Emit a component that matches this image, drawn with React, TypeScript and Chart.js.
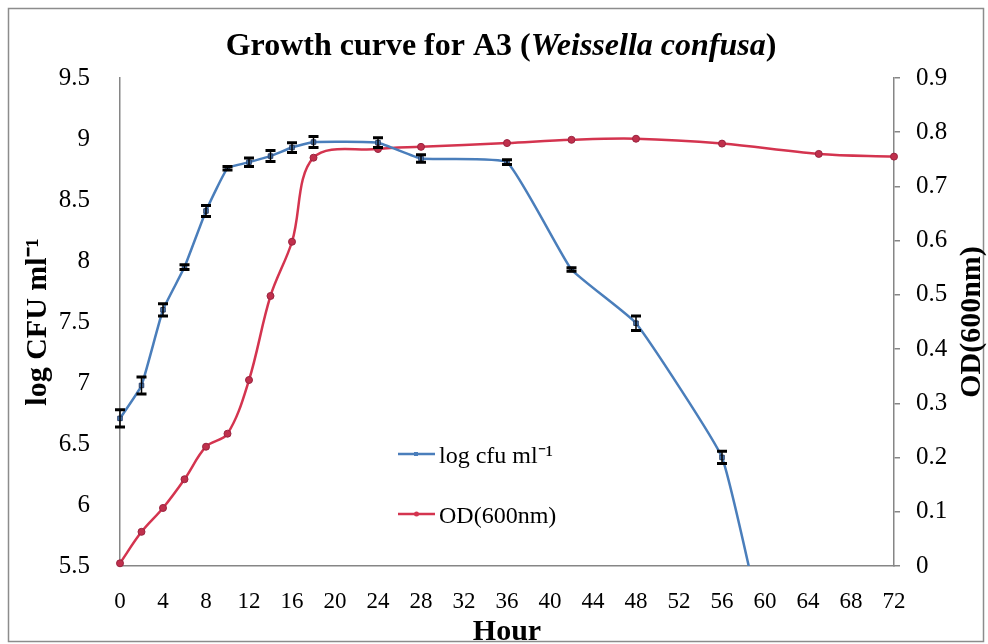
import { useEffect, useRef } from "react";
import { Chart, registerables } from "chart.js";

Chart.register(...registerables);

// ---- data ----
const hoursCfu = [0, 2, 4, 6, 8, 10, 12, 14, 16, 18, 24, 28, 36, 42, 48, 56, 60];
const logCfu = [6.71, 6.98, 7.6, 7.95, 8.41, 8.76, 8.81, 8.86, 8.93, 8.975, 8.97, 8.84, 8.81, 7.93, 7.49, 6.39, 4.9];
const logCfuErr = [0.07, 0.07, 0.05, 0.02, 0.045, 0.015, 0.035, 0.045, 0.04, 0.045, 0.04, 0.03, 0.02, 0.015, 0.06, 0.05, 0];

const hoursOd = [0, 2, 4, 6, 8, 10, 12, 14, 16, 18, 24, 28, 36, 42, 48, 56, 65, 72];
const od600 = [0.005, 0.063, 0.107, 0.16, 0.22, 0.244, 0.343, 0.498, 0.598, 0.753, 0.769, 0.773, 0.78, 0.786, 0.788, 0.779, 0.76, 0.755];

const seriesLabels = ["log cfu ml\u207B\u00B9", "OD(600nm)"];
const titleParts = [
  { text: "Growth curve for A3 (", italic: false },
  { text: "Weissella confusa", italic: true },
  { text: ")", italic: false },
];
const leftAxisTitle = "log CFU ml\u207B\u00B9";
const rightAxisTitle = "OD(600nm)";
const xAxisTitle = "Hour";

const xRange = [0, 72, 4];
const yLeftRange = [5.5, 9.5, 0.5];
const yRightRange = [0, 0.9, 0.1];

const BLUE = "#4A7EBB";
const RED = "#D4344F";
const SERIF = '"Liberation Serif", "Times New Roman", serif';
const AXIS = "#868686";

export default function App() {
  const ref = useRef<HTMLCanvasElement | null>(null);

  useEffect(() => {
    if (!ref.current) return;

    const framePlugin = {
      id: "frame",
      beforeDraw(chart: any) {
        const ctx = chart.ctx;
        ctx.save();
        ctx.fillStyle = "#fff";
        ctx.fillRect(0, 0, chart.width, chart.height);
        ctx.strokeStyle = "#8c8c8c";
        ctx.lineWidth = 1.5;
        ctx.strokeRect(8.5, 8.5, 975, 633);
        ctx.restore();
      },
    };

    const errorBarPlugin = {
      id: "errorBars",
      afterDatasetsDraw(chart: any) {
        const ctx = chart.ctx;
        const meta = chart.getDatasetMeta(0);
        const ys = chart.scales.y;
        const area = chart.chartArea;
        ctx.save();
        ctx.strokeStyle = "#000";
        meta.data.forEach((pt: any, i: number) => {
          const e = logCfuErr[i];
          if (!e) return;
          const v = logCfu[i];
          if (v < yLeftRange[0] || v > yLeftRange[1]) return;
          const x = pt.x;
          const y1 = ys.getPixelForValue(v + e);
          const y2 = ys.getPixelForValue(v - e);
          if (y2 > area.bottom + 2) return;
          ctx.lineWidth = 1.5;
          ctx.beginPath();
          ctx.moveTo(x, y1);
          ctx.lineTo(x, y2);
          ctx.stroke();
          ctx.lineWidth = 3;
          ctx.beginPath();
          ctx.moveTo(x - 5, y1);
          ctx.lineTo(x + 5, y1);
          ctx.moveTo(x - 5, y2);
          ctx.lineTo(x + 5, y2);
          ctx.stroke();
        });
        ctx.restore();
      },
    };

    const textPlugin = {
      id: "texts",
      afterDraw(chart: any) {
        const ctx = chart.ctx;
        const area = chart.chartArea;
        ctx.save();
        ctx.fillStyle = "#000";
        // title
        const fonts = titleParts.map((p) => (p.italic ? `italic bold 32px ${SERIF}` : `bold 32px ${SERIF}`));
        let total = 0;
        const widths = titleParts.map((p, i) => {
          ctx.font = fonts[i];
          const w = ctx.measureText(p.text).width;
          total += w;
          return w;
        });
        let tx = 501 - total / 2;
        ctx.textBaseline = "alphabetic";
        ctx.textAlign = "left";
        titleParts.forEach((p, i) => {
          ctx.font = fonts[i];
          ctx.fillText(p.text, tx, 55);
          tx += widths[i];
        });

        // axis titles
        ctx.font = `bold 30px ${SERIF}`;
        ctx.textAlign = "center";
        ctx.fillText(xAxisTitle, (area.left + area.right) / 2, 640);

        ctx.textBaseline = "middle";
        ctx.save();
        ctx.translate(38, (area.top + area.bottom) / 2);
        ctx.rotate(-Math.PI / 2);
        ctx.fillText(leftAxisTitle, 0, 0);
        ctx.restore();

        ctx.save();
        ctx.translate(972, (area.top + area.bottom) / 2);
        ctx.rotate(-Math.PI / 2);
        ctx.fillText(rightAxisTitle, 0, 0);
        ctx.restore();

        // legend
        const items = [
          { y: 454, color: BLUE, edge: "#2B3F66", style: "rect" },
          { y: 514, color: RED, edge: "#9A2440", style: "circle" },
        ];
        items.forEach((it, i) => {
          ctx.strokeStyle = it.color;
          ctx.lineWidth = 2.5;
          ctx.beginPath();
          ctx.moveTo(398, it.y);
          ctx.lineTo(435, it.y);
          ctx.stroke();
          ctx.fillStyle = it.color;
          ctx.strokeStyle = it.edge;
          ctx.lineWidth = 1;
          if (it.style === "rect") {
            ctx.fillRect(414, it.y - 2, 4, 4);
          } else {
            ctx.beginPath();
            ctx.arc(416.5, it.y, 2.5, 0, Math.PI * 2);
            ctx.fill();
          }
          ctx.fillStyle = "#000";
          ctx.font = `24px ${SERIF}`;
          ctx.textAlign = "left";
          ctx.textBaseline = "alphabetic";
          ctx.fillText(chart.data.datasets[i].label, 439, it.y + 9);
        });
        ctx.restore();
      },
    };

    const tickFontY = { family: SERIF, size: 25 };
    const tickFontX = { family: SERIF, size: 23 };

    const chart = new Chart(ref.current, {
      type: "line",
      data: {
        datasets: [
          {
            label: seriesLabels[0],
            data: hoursCfu.map((h, i) => ({ x: h, y: logCfu[i] })),
            yAxisID: "y",
            borderColor: BLUE,
            backgroundColor: BLUE,
            borderWidth: 2.5,
            pointStyle: "rect",
            pointRadius: 3.2,
            pointBorderColor: "#2B3F66",
            pointBorderWidth: 1,
            tension: 0.12,
            clip: { left: 10, top: 10, right: 10, bottom: 0 } as any,
          },
          {
            label: seriesLabels[1],
            data: hoursOd.map((h, i) => ({ x: h, y: od600[i] })),
            yAxisID: "y1",
            borderColor: RED,
            backgroundColor: "#C0304C",
            borderWidth: 2.5,
            pointStyle: "circle",
            pointRadius: 3.5,
            pointBorderColor: "#9A2440",
            pointBorderWidth: 1,
            tension: 0.35,
            clip: false as any,
          },
        ],
      },
      options: {
        animation: false,
        responsive: false,
        maintainAspectRatio: false,
        layout: { padding: { top: 78, left: 0, right: 0, bottom: 0 } },
        plugins: {
          legend: { display: false },
          title: { display: false },
          tooltip: { enabled: false },
        },
        scales: {
          x: {
            type: "linear",
            min: xRange[0],
            max: xRange[1],
            ticks: {
              stepSize: xRange[2],
              font: tickFontX,
              color: "#000",
              padding: 14,
              maxRotation: 0,
              autoSkip: false,
            },
            grid: { display: false },
            border: { display: true, color: AXIS, width: 1.5 },
            afterFit: (s: any) => {
              s.height = 78;
            },
          },
          y: {
            type: "linear",
            position: "left",
            min: yLeftRange[0],
            max: yLeftRange[1],
            ticks: {
              stepSize: yLeftRange[2],
              font: tickFontY,
              color: "#000",
              padding: 22,
              callback: (v: any) => String(Math.round(Number(v) * 10) / 10),
            },
            grid: { display: false },
            border: { display: true, color: AXIS, width: 1.5 },
            afterFit: (s: any) => {
              s.width = 120;
            },
          },
          y1: {
            type: "linear",
            position: "right",
            min: yRightRange[0],
            max: yRightRange[1],
            ticks: {
              stepSize: yRightRange[2],
              font: tickFontY,
              color: "#000",
              padding: 16,
              callback: (v: any) => String(Math.round(Number(v) * 10) / 10),
            },
            grid: {
              display: true,
              drawOnChartArea: false,
              drawTicks: true,
              tickLength: 6,
              color: AXIS,
              lineWidth: 1.5,
            },
            border: { display: true, color: AXIS, width: 1.5 },
            afterFit: (s: any) => {
              s.width = 94;
            },
          },
        },
      } as any,
      plugins: [framePlugin, errorBarPlugin, textPlugin],
    });

    return () => chart.destroy();
  }, []);

  return (
    <div style={{ position: "absolute", left: 0, top: 0, width: 988, height: 644 }}>
      <canvas ref={ref} width={988} height={644} style={{ display: "block", width: 988, height: 644 }} />
    </div>
  );
}
